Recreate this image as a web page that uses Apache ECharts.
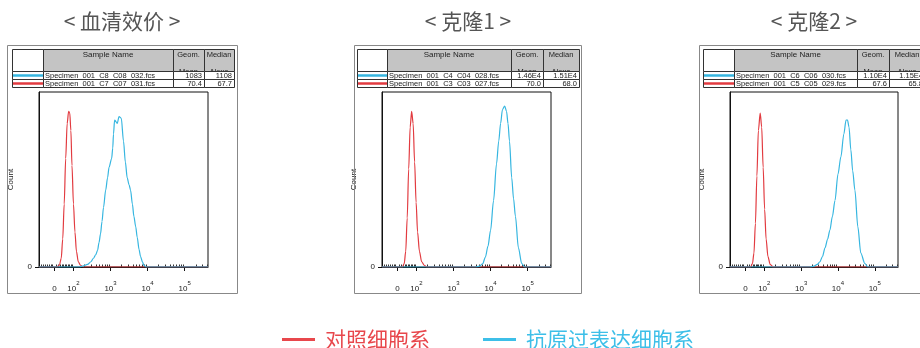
<!DOCTYPE html>
<html>
<head>
<meta charset="utf-8">
<script src="https://cdn.jsdelivr.net/npm/echarts@6/dist/echarts.min.js"></script>
<style>
  html, body { margin: 0; padding: 0; background: #fff; }
  #chart { width: 920px; height: 348px; }
</style>
</head>
<body>
<div id="chart"></div>
<script>
// ---- data ----
const panelTitles = ["< 血清效价 >", "< 克隆1 >", "< 克隆2 >"];
const seriesNames = ["对照细胞系", "抗原过表达细胞系"];

const sampleNames = [
  ["Specimen  001  C8  C08  032.fcs", "Specimen  001  C7  C07  031.fcs"],
  ["Specimen  001  C4  C04  028.fcs", "Specimen  001  C3  C03  027.fcs"],
  ["Specimen  001  C6  C06  030.fcs", "Specimen  001  C5  C05  029.fcs"]
];
const geomMean = [["1083", "70.4"], ["1.46E4", "70.0"], ["1.10E4", "67.6"]];
const medianAlexa = [["1108", "67.7"], ["1.51E4", "68.0"], ["1.15E4", "65.8"]];

// x in decades (10^n -> n, "0" sits at 1.49), y = % of max count
const xTickValues = [1.49, 2, 3, 4, 5];
const xTickLabels = ["{b|0}", "{b|10}{s|2}", "{b|10}{s|3}", "{b|10}{s|4}", "{b|10}{s|5}"];

const ctrlX1 = [1.07, 1.55, 1.62, 1.67, 1.71, 1.75, 1.79, 1.83, 1.87, 1.90, 1.93, 1.96, 2.00, 2.04, 2.08, 2.13, 2.19, 2.26, 5.63];
const ctrlY1 = [0, 0, 1, 5, 16, 36, 62, 82, 89, 88, 78, 58, 36, 20, 9, 3, 1, 0, 0];
const posX1 = [1.07, 2.15, 2.25, 2.38, 2.47, 2.54, 2.60, 2.65, 2.69, 2.73, 2.77, 2.81, 2.87, 2.92, 2.96, 3.03, 3.06, 3.08, 3.11, 3.15, 3.18, 3.23, 3.29, 3.35, 3.40, 3.45, 3.50, 3.54, 3.59, 3.63, 3.68, 3.72, 3.77, 3.81, 3.86, 3.90, 3.96, 5.63];
const posY1 = [0, 0, 0.5, 1.5, 3, 5, 7, 9.5, 14, 19, 26, 34, 44, 51, 57, 62, 68, 76, 84, 83, 82, 86, 85, 72, 60, 51, 47, 44, 36, 29, 23, 17, 10, 6, 3, 1, 0, 0];

const ctrlX2 = [1.07, 1.62, 1.67, 1.71, 1.75, 1.79, 1.83, 1.87, 1.91, 1.95, 1.99, 2.03, 2.08, 2.14, 2.21, 2.28, 5.63];
const ctrlY2 = [0, 0, 2, 9, 28, 56, 80, 89, 82, 60, 37, 20, 9, 3, 1, 0, 0];
const posX2 = [1.07, 3.60, 3.70, 3.79, 3.86, 3.93, 4.00, 4.08, 4.16, 4.22, 4.27, 4.32, 4.38, 4.43, 4.47, 4.51, 4.57, 4.62, 4.67, 4.75, 4.84, 4.92, 5.63];
const posY2 = [0, 0, 0.5, 2, 5.7, 12, 21, 38, 59, 72, 82, 90, 92, 89, 82, 72, 51, 39, 29, 11, 2, 0, 0];

const ctrlX3 = [1.07, 1.63, 1.68, 1.72, 1.76, 1.80, 1.84, 1.89, 1.93, 1.97, 2.01, 2.05, 2.10, 2.16, 2.24, 5.63];
const ctrlY3 = [0, 0, 2, 8, 25, 52, 78, 88, 80, 57, 33, 16, 6, 1.5, 0, 0];
const posX3 = [1.07, 3.24, 3.35, 3.44, 3.51, 3.58, 3.65, 3.72, 3.78, 3.85, 3.92, 4.00, 4.08, 4.16, 4.22, 4.26, 4.30, 4.35, 4.40, 4.46, 4.54, 4.62, 4.73, 4.81, 5.63];
const posY3 = [0, 0, 0.5, 1.5, 3, 6, 11, 16, 21, 29, 38, 53, 63, 76, 84, 84, 80, 67, 55, 44, 23, 8, 2, 0, 0];

const ctrlCurves = [[ctrlX1, ctrlY1], [ctrlX2, ctrlY2], [ctrlX3, ctrlY3]];
const posCurves = [[posX1, posY1], [posX2, posY2], [posX3, posY3]];

// ---- layout ----
const RED = "#e23b40", CYAN = "#36b6e0";
const plotLeft = [39, 382, 730];
const plotWidth = [169, 169, 168];
const boxLeft = [7, 354, 699];
const boxWidth = [230, 227, 230];
const titleX = [122, 468, 814];
const tableCols = [
  [12, 43, 173, 204, 234],
  [357, 387, 511, 543, 579],
  [703, 734, 857, 889, 925]
];
const rowY = [49, 71, 79, 87];
const X_MIN = 1.07, X_MAX = 5.63;

// biexponential-ish minor ticks: linear part near 0 plus log decades
const minorTicks = [1.12, 1.18, 1.24, 1.30, 1.35, 1.40, 1.44, 1.54, 1.59, 1.64, 1.69, 1.73, 1.77, 1.81, 1.85, 1.89, 1.93, 1.96];
for (let n = 2; n <= 5; n++) {
  for (let k = 2; k <= 9; k++) {
    const v = n + Math.log10(k);
    if (v < X_MAX) minorTicks.push(v);
  }
}

const zip = (xs, ys) => xs.map((x, i) => [x, ys[i]]);
const tableFont = '"Liberation Sans", Arial, sans-serif';
const cjkFont = '"Noto Sans CJK SC", sans-serif';

const grids = [], xAxes = [], yAxes = [], series = [], graphics = [];

for (let i = 0; i < 3; i++) {
  grids.push({
    left: plotLeft[i], top: 92, width: plotWidth[i], height: 175,
    show: true, borderColor: "#111", borderWidth: 1
  });
  xAxes.push({
    gridIndex: i, type: "value", min: X_MIN, max: X_MAX,
    axisLine: { show: true, onZero: false, lineStyle: { color: "#111", width: 1 } },
    axisTick: { show: true, customValues: xTickValues, length: 4, lineStyle: { color: "#111" } },
    axisLabel: {
      customValues: xTickValues, margin: 13, color: "#222",
      formatter: (v) => {
        const idx = xTickValues.indexOf(v);
        return idx >= 0 ? xTickLabels[idx] : "";
      },
      rich: {
        b: { fontSize: 8, fontFamily: tableFont, lineHeight: 13, verticalAlign: "bottom", color: "#222" },
        s: { fontSize: 6, fontFamily: tableFont, lineHeight: 7, verticalAlign: "top", color: "#222" }
      }
    },
    splitLine: { show: false }
  });
  xAxes.push({
    gridIndex: i, type: "value", min: X_MIN, max: X_MAX,
    axisLine: { show: false },
    axisTick: { show: true, customValues: minorTicks, length: 2.5, lineStyle: { color: "#333" } },
    axisLabel: { show: false },
    splitLine: { show: false }
  });
  yAxes.push({
    gridIndex: i, type: "value", min: 0, max: 100,
    name: "Count", nameLocation: "middle", nameGap: 24,
    nameTextStyle: { fontSize: 8, fontFamily: tableFont, color: "#222" },
    axisLine: { show: true, lineStyle: { color: "#111" } },
    axisTick: { show: true, customValues: [0], length: 4, lineStyle: { color: "#111" } },
    axisLabel: { customValues: [0], fontSize: 8, fontFamily: tableFont, color: "#222", margin: 7 },
    splitLine: { show: false }
  });

  series.push({
    name: seriesNames[0], type: "line", xAxisIndex: 2 * i, yAxisIndex: i,
    data: zip(ctrlCurves[i][0], ctrlCurves[i][1]),
    smooth: 0.3, smoothMonotone: "x", showSymbol: false, symbol: "none",
    color: RED, lineStyle: { color: RED, width: 1.2 }, z: 3, silent: true
  });
  series.push({
    name: seriesNames[1], type: "line", xAxisIndex: 2 * i, yAxisIndex: i,
    data: zip(posCurves[i][0], posCurves[i][1]),
    smooth: 0.3, smoothMonotone: "x", showSymbol: false, symbol: "none",
    color: CYAN, lineStyle: { color: CYAN, width: 1.2 }, z: 4, silent: true
  });

  // panel title and outer frame
  graphics.push({
    type: "text", x: titleX[i], y: 21, z: 1,
    style: { text: panelTitles[i], fontSize: 21, fontFamily: cjkFont,
             fill: "#555", textAlign: "center", textVerticalAlign: "middle" }
  });
  graphics.push({
    type: "rect", z: 1,
    shape: { x: boxLeft[i] + 0.5, y: 45.5, width: boxWidth[i], height: 248 },
    style: { fill: "none", stroke: "#888", lineWidth: 1 }
  });

  // statistics table
  const c = tableCols[i];
  graphics.push({
    type: "rect", z: 5,
    shape: { x: c[0] + 0.5, y: rowY[0] + 0.5, width: c[1] - c[0], height: rowY[1] - rowY[0] },
    style: { fill: "#fff", stroke: "#333", lineWidth: 1 }
  });
  for (let k = 1; k < 4; k++) {
    graphics.push({
      type: "rect", z: 5,
      shape: { x: c[k] + 0.5, y: rowY[0] + 0.5, width: c[k + 1] - c[k], height: rowY[1] - rowY[0] },
      style: { fill: "#c4c4c4", stroke: "#333", lineWidth: 1 }
    });
  }
  graphics.push({
    type: "text", x: (c[1] + c[2]) / 2, y: 55, z: 6,
    style: { text: "Sample Name", fontSize: 8, fontFamily: tableFont, fill: "#222",
             textAlign: "center", textVerticalAlign: "middle" }
  });
  [["Geom.", "Mean"], ["Median", "Alexa"]].forEach((h, j) => {
    const cx = (c[2 + j] + c[3 + j]) / 2;
    graphics.push({
      type: "text", x: cx, y: 55, z: 6,
      style: { text: h[0], fontSize: 7.5, fontFamily: tableFont, fill: "#222",
               textAlign: "center", textVerticalAlign: "middle" }
    });
    // second header line is cut off by the first data row, as in the export
    graphics.push({
      type: "text", x: cx, y: 71.5, z: 6,
      style: { text: h[1], fontSize: 7.5, fontFamily: tableFont, fill: "#222",
               textAlign: "center", textVerticalAlign: "middle" }
    });
  });
  for (let r = 0; r < 2; r++) {
    const y0 = rowY[r + 1], y1 = rowY[r + 2];
    for (let k = 0; k < 4; k++) {
      graphics.push({
        type: "rect", z: 7,
        shape: { x: c[k] + 0.5, y: y0 + 0.5, width: c[k + 1] - c[k], height: y1 - y0 },
        style: { fill: "#fff", stroke: "#333", lineWidth: 1 }
      });
    }
    const ym = (y0 + y1) / 2 + 1;
    graphics.push({
      type: "line", z: 8,
      shape: { x1: c[0] + 1, y1: ym - 0.5, x2: c[1], y2: ym - 0.5 },
      style: { stroke: r === 0 ? CYAN : RED, lineWidth: 2.5 }
    });
    graphics.push({
      type: "text", x: c[1] + 2, y: ym, z: 8,
      style: { text: sampleNames[i][r], fontSize: 7.5, fontFamily: tableFont, fill: "#222",
               textAlign: "left", textVerticalAlign: "middle" }
    });
    graphics.push({
      type: "text", x: c[3] - 2, y: ym, z: 8,
      style: { text: geomMean[i][r], fontSize: 7.5, fontFamily: tableFont, fill: "#222",
               textAlign: "right", textVerticalAlign: "middle" }
    });
    graphics.push({
      type: "text", x: c[4] - 2, y: ym, z: 8,
      style: { text: medianAlexa[i][r], fontSize: 7.5, fontFamily: tableFont, fill: "#222",
               textAlign: "right", textVerticalAlign: "middle" }
    });
  }
}

const chart = echarts.init(document.getElementById("chart"), null, { renderer: "canvas" });
chart.setOption({
  animation: false,
  backgroundColor: "#fff",
  legend: {
    left: 277, top: 324,
    icon: "rect", itemWidth: 33, itemHeight: 3, itemGap: 53,
    selectedMode: false,
    textStyle: { fontSize: 21, fontFamily: cjkFont, padding: [0, 0, 0, 5] },
    data: [
      { name: seriesNames[0], textStyle: { color: "#e8474c" }, itemStyle: { color: "#e8474c" } },
      { name: seriesNames[1], textStyle: { color: "#3dbfe8" }, itemStyle: { color: "#3dbfe8" } }
    ]
  },
  grid: grids,
  xAxis: xAxes,
  yAxis: yAxes,
  series: series,
  graphic: graphics
});
</script>
</body>
</html>
